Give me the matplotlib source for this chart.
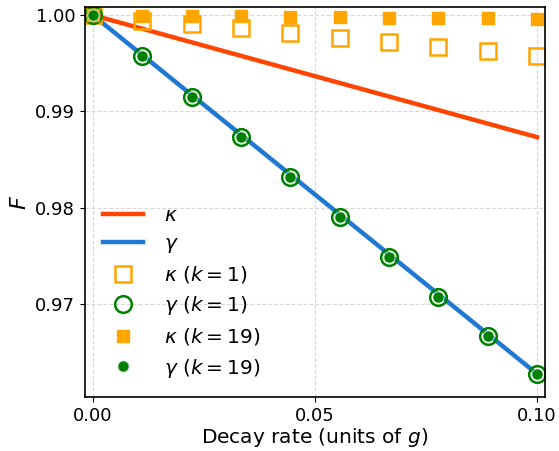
import matplotlib
matplotlib.use("Agg")
import matplotlib.pyplot as plt
import numpy as np

# decay rates (units of g)
rates = [0.0, 0.0111, 0.0222, 0.0333, 0.0444, 0.0556, 0.0667, 0.0778, 0.0889, 0.1]

# analytic lines
line_x = [0.0, 0.1]
F_kappa_line = [1.0, 0.98733]
F_gamma_line = [1.0, 0.96273]

# numerical points
F_kappa_k1 = [1.0, 0.99938, 0.99907, 0.99865, 0.99813, 0.99761, 0.9972, 0.99668, 0.99626, 0.99574]
F_gamma_k1 = [1.0, 0.99574, 0.99149, 0.98734, 0.98318, 0.97903, 0.97488, 0.97073, 0.96668, 0.96273]
F_kappa_k19 = [1.0, 0.9999, 0.9999, 0.99988, 0.99983, 0.99982, 0.99975, 0.99974, 0.99968, 0.99962]
F_gamma_k19 = [1.0, 0.99574, 0.99149, 0.98734, 0.98318, 0.97903, 0.97488, 0.97073, 0.96668, 0.96273]

fig = plt.figure(figsize=(5.59, 4.51), dpi=100)
ax = fig.add_axes([0.152, 0.12, 0.823, 0.864])

ax.plot(line_x, F_kappa_line, color="#ff4500", lw=3.2, label=r"$\kappa$")
ax.plot(line_x, F_gamma_line, color="#1f78d1", lw=3.2, label=r"$\gamma$")
ax.plot(rates, F_kappa_k1, ls="none", marker="s", ms=11, mfc="none", mec="orange", mew=1.8,
        label=r"$\kappa$ $(k=1)$")
ax.plot(rates, F_gamma_k1, ls="none", marker="o", ms=12, mfc="none", mec="green", mew=1.8,
        label=r"$\gamma$ $(k=1)$")
ax.plot(rates, F_kappa_k19, ls="none", marker="s", ms=8, color="orange", label=r"$\kappa$ $(k=19)$")
ax.plot(rates, F_gamma_k19, ls="none", marker="o", ms=8, color="green", mec="#c8e6c8", mew=0.6,
        label=r"$\gamma$ $(k=19)$")

ax.set_xlim(-0.0018, 0.1018)
ax.set_ylim(0.96034, 1.00083)
ax.set_xticks([0.0, 0.05, 0.1])
ax.set_xticklabels(["0.00", "0.05", "0.10"])
ax.set_yticks([0.97, 0.98, 0.99, 1.0])
ax.set_yticklabels(["0.97", "0.98", "0.99", "1.00"])
ax.tick_params(labelsize=13)
ax.grid(True, ls="--", color="#d8d8d8", lw=0.8)
for s in ax.spines.values():
    s.set_linewidth(1.2)

ax.set_xlabel(r"Decay rate (units of $g$)", fontsize=14.5, labelpad=1)
ax.set_ylabel(r"$F$", fontsize=16)

ax.legend(loc="lower left", frameon=False, fontsize=14.5, labelspacing=0.45,
          handlelength=2.0, handletextpad=1.0, bbox_to_anchor=(0.0, -0.002))

fig.savefig("out.png", dpi=100)
